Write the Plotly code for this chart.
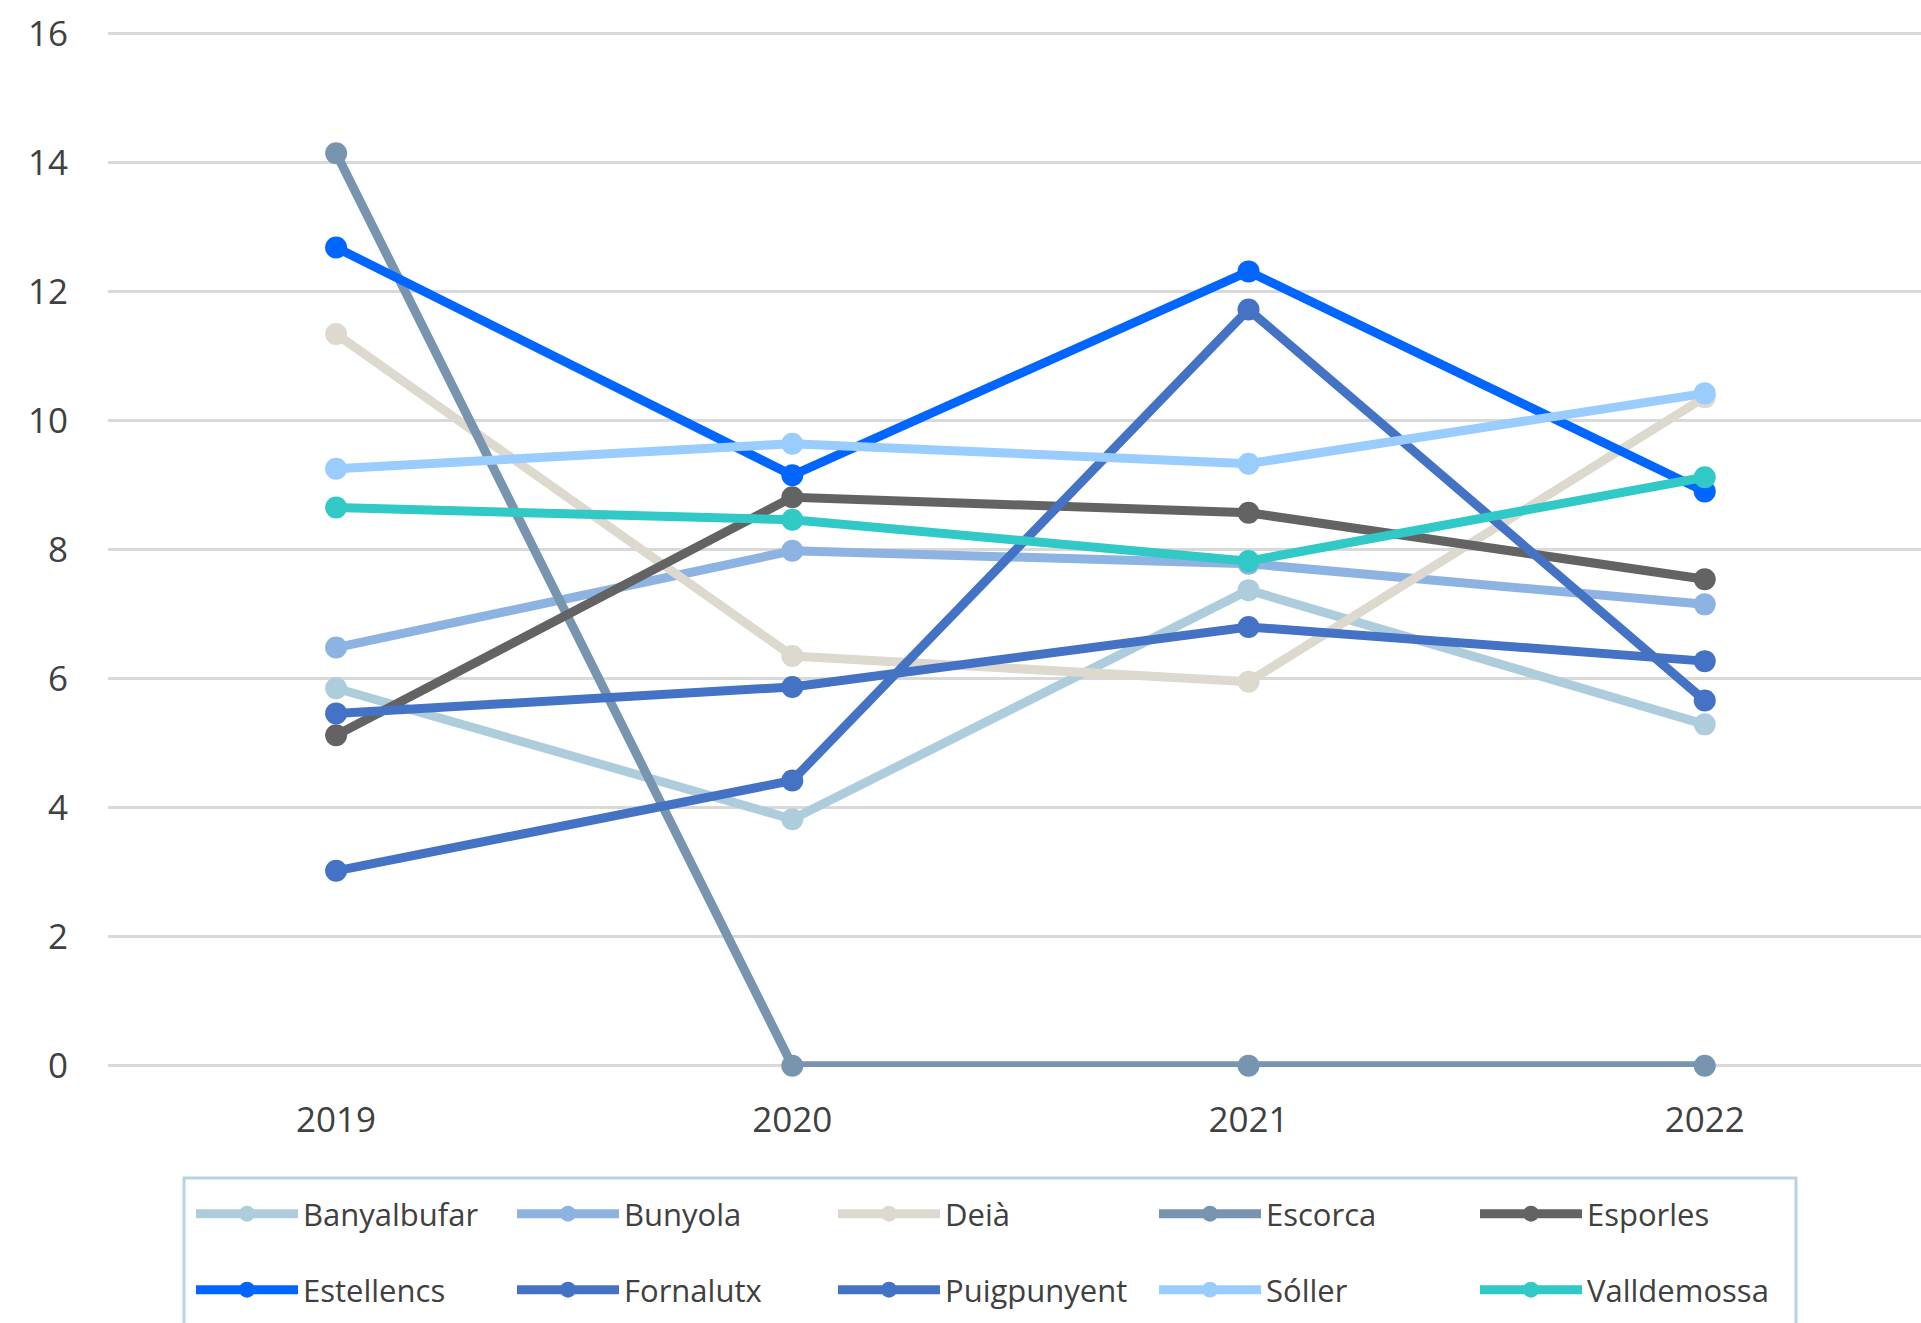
import plotly.graph_objects as go

years = ["2019", "2020", "2021", "2022"]

names = ["Banyalbufar", "Bunyola", "Deià", "Escorca", "Esporles",
         "Estellencs", "Fornalutx", "Puigpunyent", "Sóller", "Valldemossa"]

banyalbufar = [5.85, 3.82, 7.37, 5.29]
bunyola = [6.48, 7.98, 7.78, 7.15]
deia = [11.34, 6.35, 5.95, 10.36]
escorca = [14.14, 0, 0, 0]
esporles = [5.12, 8.81, 8.57, 7.54]
estellencs = [12.68, 9.15, 12.31, 8.90]
fornalutx = [3.02, 4.42, 11.72, 5.66]
puigpunyent = [5.46, 5.87, 6.80, 6.27]
soller = [9.25, 9.64, 9.33, 10.42]
valldemossa = [8.65, 8.46, 7.82, 9.12]

series = [banyalbufar, bunyola, deia, escorca, esporles,
          estellencs, fornalutx, puigpunyent, soller, valldemossa]

colors = ["#AECDDC", "#8DB3E2", "#DDD9CE", "#7895B0", "#636363",
          "#0066FF", "#4472C4", "#4472C4", "#99CCFF", "#30C9C6"]

y_ticks = [0, 2, 4, 6, 8, 10, 12, 14, 16]

FONT = "Open Sans"
TXT = "#404040"

fig = go.Figure()
for i, (n, vals, c) in enumerate(zip(names, series, colors)):
    fig.add_trace(go.Scatter(
        x=years, y=vals, name=n, mode="lines+markers",
        line=dict(color=c, width=9),
        marker=dict(color=c, size=22),
        cliponaxis=False,
        legend="legend" if i < 5 else "legend2",
    ))

W, H = 1921, 1323
left, right_px, top, bottom = 108, 1921, 32, 1067

legend_common = dict(
    orientation="h",
    xref="container", yref="container",
    xanchor="left", yanchor="middle",
    font=dict(family=FONT, size=31, color=TXT),
    bgcolor="rgba(0,0,0,0)",
    borderwidth=0,
    itemwidth=102,
    entrywidth=204,
    entrywidthmode="pixels",
    itemclick=False,
)

fig.update_layout(
    width=W, height=H,
    paper_bgcolor="white", plot_bgcolor="white",
    margin=dict(l=left, r=W - right_px, t=top, b=H - bottom, pad=0),
    font=dict(family=FONT, color=TXT, size=35),
    showlegend=True,
    legend=dict(**legend_common, x=191 / W, y=1 - 1214 / H),
    legend2=dict(**legend_common, x=191 / W, y=1 - 1290 / H),
    xaxis=dict(
        type="category", range=[-0.5, 3.474],
        showgrid=False, zeroline=False, showline=False,
        ticks="outside", ticklen=22, tickcolor="rgba(0,0,0,0)",
        tickfont=dict(family=FONT, size=35, color=TXT),
    ),
    yaxis=dict(
        range=[-0.02, 16.02], tickvals=y_ticks,
        showgrid=True, gridcolor="#D9D9D9", gridwidth=3,
        zeroline=False, showline=False,
        ticks="outside", ticklen=32, tickcolor="rgba(0,0,0,0)",
        tickfont=dict(family=FONT, size=35, color=TXT),
    ),
    shapes=[dict(
        type="rect", xref="paper", yref="paper",
        x0=(184 - left) / (right_px - left), x1=(1796 - left) / (right_px - left),
        y0=(bottom - 1330) / (bottom - top), y1=(bottom - 1178) / (bottom - top),
        line=dict(color="#B7D3E1", width=3), fillcolor="rgba(0,0,0,0)",
        layer="below",
    )],
)

fig.write_html(
    "out.html",
    config={"displayModeBar": False},
    post_script="document.body.style.margin='0';document.body.style.overflow='hidden';",
)
